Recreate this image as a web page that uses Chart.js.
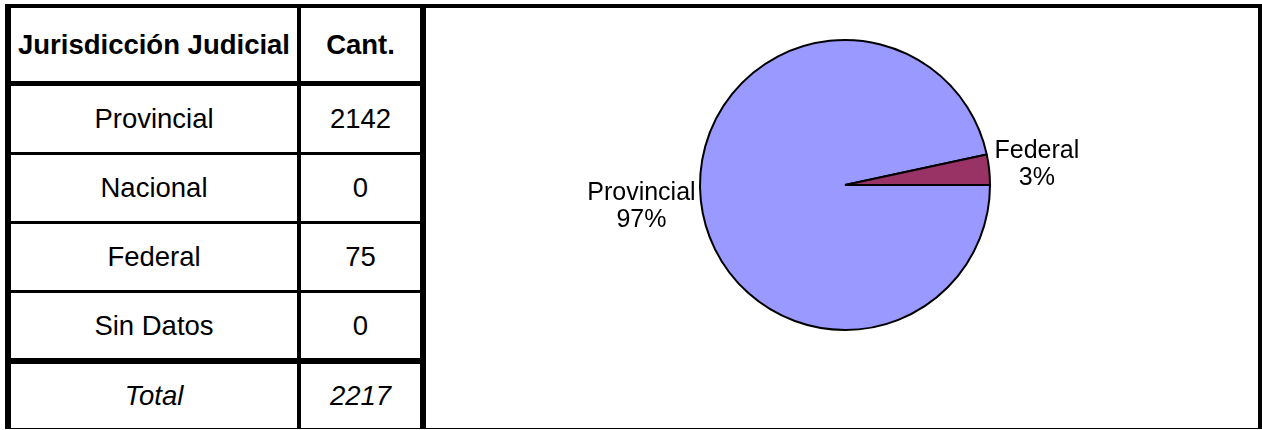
<!DOCTYPE html>
<html>
<head>
<meta charset="utf-8">
<script src="https://cdn.jsdelivr.net/npm/chart.js@4.4.1/dist/chart.umd.min.js"></script>
<style>
  html, body { margin: 0; padding: 0; background: #fff; }
  body { width: 1262px; height: 430px; position: relative; overflow: hidden; font-family: "Liberation Sans", Arial, sans-serif; }
  .ln { position: absolute; background: #000; }
  .cell { position: absolute; display: flex; align-items: center; justify-content: center; font-size: 27.5px; color: #000; }
  #pieBox { position: absolute; left: 426px; top: 8px; width: 832px; height: 420px; }
</style>
</head>
<body>
<div id="pieBox"><canvas id="pieChart"></canvas></div>
<script>
// data
const headers = ["Jurisdicción Judicial", "Cant."];
const categories = ["Provincial", "Nacional", "Federal", "Sin Datos"];
const counts = [2142, 0, 75, 0];
const totalLabel = "Total";
const colors = ["#9999FF", "#CCCCFF", "#993366", "#FFFFCC"];

const total = counts.reduce((a, b) => a + b, 0);

// table layout (x edges of columns, y edges of rows)
const colX = [11, 297, 301, 420];
const rowY = [[8, 81], [86, 152], [155, 221], [224, 290], [293, 358], [364, 428]];

function box(cls, l, t, w, h, txt) {
  const d = document.createElement("div");
  d.className = cls;
  d.style.left = l + "px";
  d.style.top = t + "px";
  d.style.width = w + "px";
  d.style.height = h + "px";
  if (txt !== undefined) d.textContent = txt;
  document.body.appendChild(d);
  return d;
}

// borders
box("ln", 5, 4, 1257, 4);          // top
box("ln", 5, 4, 6, 425);           // left
box("ln", 297, 4, 4, 425);         // column separator
box("ln", 420, 4, 6, 425);         // table right / chart left
box("ln", 1258, 4, 4, 425);        // chart right
box("ln", 5, 428, 1257, 1);        // bottom
box("ln", 5, 81, 421, 5);          // under header
box("ln", 5, 152, 421, 3);
box("ln", 5, 221, 421, 3);
box("ln", 5, 290, 421, 3);
box("ln", 5, 358, 421, 6);         // above total

// cells
const rows = [headers].concat(categories.map((c, i) => [c, String(counts[i])])).concat([[totalLabel, String(total)]]);
rows.forEach((r, i) => {
  const [t, b] = rowY[i];
  const a = box("cell", colX[0], t, colX[1] - colX[0], b - t, r[0]);
  const c = box("cell", colX[2], t, colX[3] - colX[2], b - t, r[1]);
  if (i === 0) { a.style.fontWeight = "bold"; c.style.fontWeight = "bold"; }
  if (i === rows.length - 1) { a.style.fontStyle = "italic"; c.style.fontStyle = "italic"; }
});

// outside labels, excel style
const outsideLabels = {
  id: "outsideLabels",
  afterDatasetsDraw(chart) {
    const ctx = chart.ctx;
    const arcs = chart.getDatasetMeta(0).data;
    ctx.save();
    ctx.font = "25px 'Liberation Sans', Arial, sans-serif";
    ctx.fillStyle = "#000";
    ctx.textAlign = "center";
    ctx.textBaseline = "middle";
    const lh = 27;
    arcs.forEach((arc, i) => {
      const v = counts[i];
      if (!v) return;
      const pct = Math.round(v / total * 100) + "%";
      const lines = [categories[i], pct];
      const { x, y, startAngle, endAngle, outerRadius } = arc.getProps(["x", "y", "startAngle", "endAngle", "outerRadius"], true);
      const mid = (startAngle + endAngle) / 2;
      const dx = Math.cos(mid), dy = Math.sin(mid);
      const hw = Math.max(...lines.map(s => ctx.measureText(s).width)) / 2;
      const hh = lines.length * lh / 2;
      const t = 3 + Math.abs(dx) * hw + Math.abs(dy) * hh;
      const cx = x + dx * (outerRadius + t);
      const cy = y + dy * (outerRadius + t);
      lines.forEach((s, k) => {
        ctx.fillText(s, cx, cy - hh + lh / 2 + k * lh);
      });
    });
    ctx.restore();
  }
};

new Chart(document.getElementById("pieChart"), {
  type: "pie",
  data: {
    labels: categories,
    datasets: [{
      data: counts,
      backgroundColor: colors,
      borderColor: "#000",
      borderWidth: ctx => (counts[ctx.dataIndex] ? 2 : 0)
    }]
  },
  options: {
    responsive: true,
    maintainAspectRatio: false,
    animation: false,
    rotation: 90,
    radius: 145,
    layout: { padding: { left: 6, right: 0, top: 0, bottom: 66 } },
    plugins: {
      legend: { display: false },
      tooltip: { enabled: false }
    }
  },
  plugins: [outsideLabels]
});
</script>
</body>
</html>
